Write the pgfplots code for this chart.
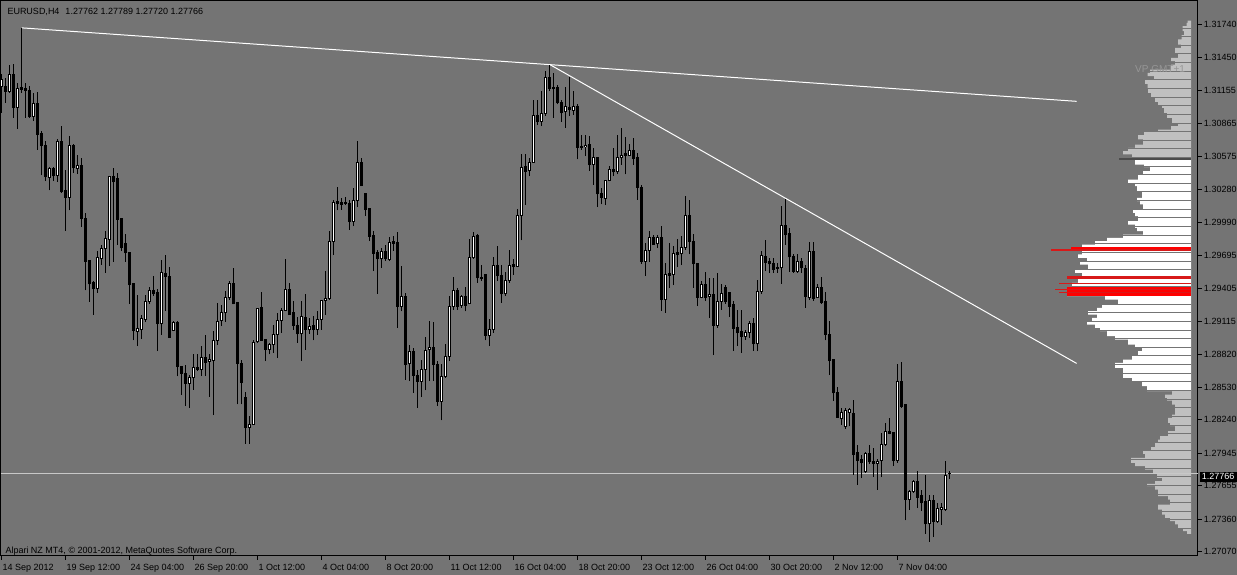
\documentclass[border=0pt]{standalone}
\usepackage{fontspec}
\setmainfont{Liberation Sans}
\usepackage{pgfplots}
\usepackage{pgfplotstable}
\pgfplotsset{compat=1.18}

\definecolor{mtbg}{RGB}{116,116,116}
\definecolor{vpgray}{RGB}{192,192,192}
\definecolor{vpred}{RGB}{255,0,0}
\definecolor{vpdark}{RGB}{215,25,25}
\definecolor{bidline}{RGB}{200,200,200}
\definecolor{vptext}{RGB}{150,150,150}

% EURUSD H4 candles: index, open, high, low, close
\pgfplotstableread{
k o h l c
0 1.31196 1.31300 1.30960 1.31256
1 1.31196 1.31270 1.31049 1.31152
2 1.31152 1.31388 1.31137 1.31300
3 1.31300 1.31394 1.30916 1.31010
4 1.31010 1.31226 1.30821 1.31176
5 1.31188 1.31713 1.31137 1.31170
6 1.31176 1.31226 1.30916 1.31158
7 1.31158 1.31196 1.30916 1.30925
8 1.30928 1.31137 1.30886 1.31040
9 1.31040 1.31146 1.30635 1.30768
10 1.30780 1.30798 1.30405 1.30668
11 1.30674 1.30715 1.30355 1.30396
12 1.30390 1.30479 1.30272 1.30467
13 1.30467 1.30479 1.30355 1.30402
14 1.30408 1.30724 1.30349 1.30703
15 1.30703 1.30842 1.30251 1.30260
16 1.30272 1.30458 1.29917 1.30213
17 1.30213 1.30753 1.30095 1.30674
18 1.30674 1.30685 1.30428 1.30473
19 1.30467 1.30585 1.30420 1.30496
20 1.30496 1.30561 1.29947 1.30024
21 1.30024 1.30074 1.29386 1.29646
22 1.29652 1.29660 1.29285 1.29445
23 1.29454 1.29468 1.29173 1.29403
24 1.29403 1.29734 1.29365 1.29675
25 1.29669 1.29793 1.29616 1.29755
26 1.29755 1.29917 1.29542 1.29844
27 1.29838 1.30399 1.29601 1.30399
28 1.30399 1.30473 1.29640 1.30349
29 1.30378 1.30428 1.29793 1.30015
30 1.30021 1.30030 1.29734 1.29764
31 1.29805 1.29888 1.29640 1.29719
32 1.29719 1.29719 1.29268 1.29439
33 1.29445 1.29445 1.28943 1.29031
34 1.29025 1.29350 1.28892 1.29046
35 1.29040 1.29173 1.28960 1.29135
36 1.29129 1.29350 1.29108 1.29291
37 1.29291 1.29421 1.29268 1.29386
38 1.29386 1.29513 1.29335 1.29356
39 1.29365 1.29395 1.28848 1.29093
40 1.29093 1.29654 1.28996 1.29548
41 1.29539 1.29699 1.29203 1.29510
42 1.29510 1.29592 1.28966 1.28972
43 1.29034 1.29114 1.29025 1.29105
44 1.29099 1.29114 1.28624 1.28712
45 1.28712 1.28715 1.28458 1.28653
46 1.28653 1.28730 1.28361 1.28565
47 1.28562 1.28641 1.28346 1.28612
48 1.28612 1.28819 1.28508 1.28700
49 1.28700 1.28825 1.28671 1.28689
50 1.28686 1.28892 1.28627 1.28795
51 1.28795 1.28996 1.28627 1.28751
52 1.28760 1.28819 1.28443 1.28777
53 1.28768 1.29025 1.28281 1.28946
54 1.28946 1.29273 1.28907 1.29114
55 1.29120 1.29256 1.29070 1.29188
56 1.29188 1.29380 1.29108 1.29327
57 1.29327 1.29468 1.29306 1.29451
58 1.29445 1.29587 1.29262 1.29268
59 1.29276 1.29276 1.28376 1.28742
60 1.28742 1.28771 1.28376 1.28571
61 1.28441 1.28488 1.28027 1.28175
62 1.28175 1.28272 1.28027 1.28198
63 1.28198 1.28943 1.28192 1.28928
64 1.28931 1.29232 1.28922 1.29223
65 1.29232 1.29374 1.28943 1.28943
66 1.28951 1.28960 1.28760 1.28863
67 1.28863 1.28922 1.28819 1.28907
68 1.28907 1.29084 1.28833 1.28996
69 1.28996 1.29188 1.28789 1.29120
70 1.29120 1.29232 1.29011 1.29209
71 1.29209 1.29669 1.29203 1.29395
72 1.29395 1.29454 1.29173 1.29173
73 1.29188 1.29297 1.29040 1.29079
74 1.29079 1.29150 1.28922 1.29002
75 1.29002 1.29291 1.28760 1.29158
76 1.29150 1.29356 1.28863 1.29040
77 1.29040 1.29144 1.29002 1.29070
78 1.29079 1.29158 1.28943 1.29040
79 1.29040 1.29203 1.28996 1.29129
80 1.29129 1.29306 1.29040 1.29297
81 1.29297 1.29563 1.29173 1.29315
82 1.29315 1.29917 1.29306 1.29823
83 1.29823 1.30192 1.29699 1.30168
84 1.30171 1.30301 1.30095 1.30160
85 1.30168 1.30207 1.30103 1.30148
86 1.30160 1.30213 1.30142 1.30165
87 1.30157 1.30192 1.29926 1.30000
88 1.30000 1.30295 1.29956 1.30186
89 1.30186 1.30709 1.30124 1.30517
90 1.30517 1.30561 1.30310 1.30316
91 1.30242 1.30242 1.30044 1.30103
92 1.30109 1.30109 1.29823 1.29867
93 1.29873 1.29917 1.29557 1.29714
94 1.29719 1.29749 1.29356 1.29669
95 1.29669 1.29764 1.29586 1.29734
96 1.29734 1.29793 1.29646 1.29669
97 1.29660 1.29861 1.29646 1.29808
98 1.29823 1.29867 1.29740 1.29805
99 1.29814 1.29903 1.29055 1.29247
100 1.29247 1.29601 1.29202 1.29335
101 1.29335 1.29365 1.28597 1.28730
102 1.28736 1.28907 1.28582 1.28842
103 1.28842 1.28878 1.28479 1.28635
104 1.28635 1.28685 1.28346 1.28582
105 1.28582 1.28774 1.28440 1.28685
106 1.28685 1.28972 1.28500 1.28854
107 1.28863 1.29114 1.28582 1.28884
108 1.28884 1.29108 1.28582 1.28730
109 1.28730 1.28765 1.28361 1.28405
110 1.28405 1.28736 1.28234 1.28626
111 1.28626 1.28913 1.28612 1.28804
112 1.28804 1.29335 1.28765 1.29247
113 1.29247 1.29504 1.29217 1.29386
114 1.29386 1.29409 1.29217 1.29247
115 1.29256 1.29350 1.29232 1.29335
116 1.29335 1.29415 1.29202 1.29256
117 1.29268 1.29838 1.29262 1.29675
118 1.29675 1.29906 1.29669 1.29867
119 1.29873 1.29888 1.29453 1.29498
120 1.29504 1.29616 1.29468 1.29489
121 1.29527 1.29527 1.28943 1.28990
122 1.28990 1.29129 1.28892 1.29040
123 1.29040 1.29681 1.29011 1.29610
124 1.29610 1.29779 1.29468 1.29522
125 1.29522 1.29610 1.29276 1.29356
126 1.29356 1.29551 1.29335 1.29474
127 1.29474 1.29749 1.29453 1.29610
128 1.29616 1.29669 1.29527 1.29601
129 1.29601 1.30112 1.29592 1.30050
130 1.30050 1.30591 1.29829 1.30479
131 1.30487 1.30591 1.30142 1.30443
132 1.30449 1.30561 1.30399 1.30523
133 1.30523 1.31078 1.30517 1.30936
134 1.30939 1.31078 1.30851 1.30880
135 1.30886 1.31152 1.30842 1.30954
136 1.30954 1.31329 1.30931 1.31276
137 1.31276 1.31388 1.31152 1.31176
138 1.31182 1.31315 1.30916 1.31173
139 1.31182 1.31205 1.31034 1.31049
140 1.31049 1.31078 1.30880 1.30960
141 1.30969 1.31188 1.30827 1.31019
142 1.31010 1.31276 1.30931 1.30990
143 1.30984 1.31152 1.30945 1.31019
144 1.31019 1.31034 1.30547 1.30656
145 1.30662 1.30762 1.30635 1.30656
146 1.30659 1.30762 1.30576 1.30674
147 1.30680 1.30753 1.30449 1.30502
148 1.30502 1.30650 1.30325 1.30567
149 1.30567 1.30567 1.30124 1.30242
150 1.30242 1.30295 1.30148 1.30213
151 1.30201 1.30369 1.30142 1.30360
152 1.30360 1.30487 1.30355 1.30458
153 1.30458 1.30650 1.30399 1.30437
154 1.30437 1.30762 1.30414 1.30561
155 1.30561 1.30827 1.30502 1.30585
156 1.30597 1.30744 1.30414 1.30585
157 1.30585 1.30680 1.30576 1.30626
158 1.30626 1.30739 1.30502 1.30555
159 1.30561 1.30606 1.30192 1.30301
160 1.30295 1.30325 1.29622 1.29646
161 1.29646 1.29808 1.29513 1.29740
162 1.29740 1.29911 1.29640 1.29858
163 1.29858 1.29882 1.29793 1.29793
164 1.29799 1.29876 1.29764 1.29852
165 1.29852 1.29956 1.29208 1.29306
166 1.29306 1.29631 1.29188 1.29527
167 1.29533 1.29808 1.29409 1.29522
168 1.29527 1.29779 1.29433 1.29711
169 1.29719 1.29838 1.29592 1.29705
170 1.29711 1.29867 1.29610 1.29770
171 1.29770 1.30222 1.29749 1.30053
172 1.30053 1.30192 1.29705 1.29823
173 1.29823 1.29888 1.29409 1.29622
174 1.29622 1.29622 1.29247 1.29327
175 1.29327 1.29468 1.29315 1.29439
176 1.29439 1.29551 1.29291 1.29327
177 1.29335 1.29498 1.29143 1.29350
178 1.29350 1.29498 1.28813 1.29078
179 1.29078 1.29542 1.29055 1.29291
180 1.29291 1.29445 1.29217 1.29356
181 1.29415 1.29433 1.29267 1.29285
182 1.29365 1.29365 1.29149 1.29247
183 1.29262 1.29291 1.28854 1.29049
184 1.29055 1.29217 1.28892 1.29011
185 1.29019 1.29217 1.28833 1.28981
186 1.28981 1.29040 1.28951 1.29016
187 1.29016 1.29114 1.28966 1.29093
188 1.29093 1.29143 1.28854 1.28913
189 1.28913 1.29483 1.28848 1.29380
190 1.29380 1.29740 1.29356 1.29699
191 1.29690 1.29829 1.29557 1.29637
192 1.29640 1.29675 1.29542 1.29622
193 1.29622 1.29675 1.29542 1.29572
194 1.29581 1.29631 1.29542 1.29592
195 1.29587 1.30133 1.29445 1.29965
196 1.29965 1.30201 1.29793 1.29882
197 1.29888 1.29941 1.29551 1.29684
198 1.29684 1.29705 1.29542 1.29557
199 1.29557 1.29705 1.29542 1.29640
200 1.29640 1.29675 1.29542 1.29587
201 1.29581 1.29616 1.29232 1.29335
202 1.29327 1.29817 1.29306 1.29728
203 1.29728 1.29817 1.29297 1.29315
204 1.29327 1.29445 1.29321 1.29409
205 1.29415 1.29504 1.29267 1.29276
206 1.29285 1.29374 1.28943 1.28996
207 1.28996 1.29114 1.28635 1.28765
208 1.28774 1.28774 1.28405 1.28479
209 1.28479 1.28529 1.28257 1.28263
210 1.28251 1.28346 1.28198 1.28302
211 1.28183 1.28346 1.28163 1.28322
212 1.28302 1.28346 1.28183 1.28331
213 1.28293 1.28420 1.27755 1.27932
214 1.27947 1.28021 1.27661 1.27879
215 1.27888 1.27932 1.27726 1.27859
216 1.27779 1.27956 1.27770 1.27941
217 1.27941 1.28021 1.27850 1.27867
218 1.27867 1.27986 1.27734 1.27856
219 1.27856 1.27897 1.27622 1.27873
220 1.27879 1.28124 1.27732 1.28021
221 1.28021 1.28213 1.28006 1.28133
222 1.28133 1.28257 1.28110 1.28121
223 1.28124 1.28124 1.27829 1.27879
224 1.27879 1.28736 1.27859 1.28582
225 1.28582 1.28754 1.28346 1.28361
226 1.28375 1.28375 1.27348 1.27534
227 1.27534 1.27622 1.27445 1.27607
228 1.27607 1.27711 1.27593 1.27696
229 1.27696 1.27785 1.27460 1.27554
230 1.27572 1.27622 1.27430 1.27504
231 1.27519 1.27755 1.27229 1.27318
232 1.27318 1.27578 1.27158 1.27525
233 1.27525 1.27578 1.27200 1.27342
234 1.27342 1.27504 1.27327 1.27454
235 1.27445 1.27504 1.27312 1.27466
236 1.27445 1.27879 1.27436 1.27746
237 1.27762 1.27789 1.27720 1.27766
}\candles

\begin{document}
\begin{tikzpicture}[x=1pt,y=1pt]
\fill[mtbg] (0,0) rectangle (1237,575);
\path[use as bounding box] (0,0) rectangle (1237,575);

% volume profile (length in px from the right edge, price)
\begin{axis}[at={(2.5,17)}, anchor=south west, scale only axis,
  width=1197pt, height=555.7pt, hide axis, x dir=reverse,
  xmin=-3.5, xmax=1193.5, ymin=1.27035, ymax=1.31959]
\addplot[xbar interval, fill=vpgray, draw=none] coordinates {
 (3.3,1.31778) (4.3,1.31758) (8.3,1.31728) (7,1.31684) (9.3,1.31649)
 (13,1.31610) (10,1.31565) (16,1.31536) (13,1.31492) (20,1.31448)
 (16,1.31418) (20,1.31388) (41,1.31344) (43.3,1.31315) (37,1.31285)
 (46,1.31255) (43.3,1.31217) (43,1.31182) (40,1.31137) (36,1.31093)
 (33,1.31058) (29,1.31028) (27,1.31004) (24,1.30960) (19,1.30916)
 (13,1.30872) (20,1.30842) (33,1.30812) (47,1.30789) (53,1.30763)
 (48,1.30724) (56,1.30679) (63,1.30650) (68,1.30621) (59,1.30591)
 (72,1.30561) (0,1.30546)};
\addplot[xbar interval, fill=white, draw=none] coordinates {
 (56,1.30546) (47,1.30502) (41,1.30479) (48,1.30444) (53,1.30413)
 (63,1.30369) (56,1.30340) (54,1.30311) (49,1.30266) (54,1.30207)
 (51,1.30178) (48,1.30148) (58,1.30103) (56,1.30074) (53,1.30045)
 (63,1.30000) (56,1.29970) (54,1.29941) (48,1.29912) (68,1.29882)
 (84,1.29852) (96,1.29823) (109,1.29793) (120,1.29770) (109,1.29740)
 (113,1.29705) (104,1.29675) (111,1.29646) (103,1.29616) (116,1.29572)
 (109,1.29542) (124,1.29510) (113,1.29489) (119,1.29454) (124,1.29416)
 (86,1.29336) (73,1.29306) (89,1.29261) (94,1.29232) (103,1.29203)
 (94,1.29173) (99,1.29144) (104,1.29114) (96,1.29084) (91,1.29055)
 (84,1.29026) (76,1.28981) (63,1.28951) (56,1.28907) (49,1.28878)
 (53,1.28848) (59,1.28804) (68,1.28774) (76,1.28745) (68,1.28700)
 (68,1.28656) (59,1.28612) (49,1.28583) (44,1.28538) (0,1.28494)};
\addplot[xbar interval, fill=vpgray, draw=none] coordinates {
 (19,1.28494) (26,1.28464) (24,1.28435) (19,1.28411) (16,1.28375)
 (19,1.28287) (23,1.28257) (21,1.28213) (16,1.28184) (23,1.28140)
 (31,1.28095) (33,1.28065) (36,1.28036) (40,1.27998) (48,1.27968)
 (46,1.27938) (60,1.27903) (56,1.27859) (46,1.27829) (38,1.27799)
 (34,1.27761) (29,1.27726) (36,1.27696) (44,1.27673) (36,1.27652)
 (33,1.27622) (23,1.27564) (21,1.27533) (33,1.27489) (29,1.27445)
 (26,1.27400) (21,1.27371) (16,1.27342) (13,1.27313) (8,1.27283)
 (4,1.27254) (0,1.27230)};
% row separators
\addplot[draw=none, mark=none, error bars/.cd, x dir=plus, x fixed=160,
  error mark=none, error bar style={draw=mtbg, line width=1pt}] coordinates {
 (0,1.31788) (0,1.31711) (0,1.31635) (0,1.31559) (0,1.31482) (0,1.31406)
 (0,1.31329) (0,1.31253) (0,1.31176) (0,1.31100) (0,1.31023) (0,1.30947)
 (0,1.30870) (0,1.30794) (0,1.30717) (0,1.30641) (0,1.30564) (0,1.30488)
 (0,1.30412) (0,1.30335) (0,1.30259) (0,1.30182) (0,1.30106) (0,1.30029)
 (0,1.29953) (0,1.29876) (0,1.29800) (0,1.29723) (0,1.29647) (0,1.29571)
 (0,1.29494) (0,1.29418) (0,1.29341) (0,1.29265) (0,1.29188) (0,1.29112)
 (0,1.29035) (0,1.28959) (0,1.28882) (0,1.28806) (0,1.28729) (0,1.28653)
 (0,1.28576) (0,1.28500) (0,1.28424) (0,1.28347) (0,1.28271) (0,1.28194)
 (0,1.28118) (0,1.28041) (0,1.27965) (0,1.27888) (0,1.27812) (0,1.27735)
 (0,1.27659) (0,1.27582) (0,1.27506) (0,1.27429) (0,1.27353) (0,1.27276)};
\addplot[xbar interval, fill=black!70, draw=none] coordinates {(72,1.30561) (0,1.30546)};
\addplot[xbar interval, fill=vpred, draw=none] coordinates {(120,1.29770) (0,1.29740)};
\addplot[xbar interval, fill=vpdark, draw=none] coordinates {(140,1.29751) (0,1.29740)};
\addplot[xbar interval, fill=vpdark, draw=none] coordinates {(124,1.29510) (0,1.29489)};
\addplot[xbar interval, fill=vpdark, draw=none] coordinates {(132,1.29449) (0,1.29440)};
\addplot[xbar interval, fill=vpred, draw=none] coordinates {(124,1.29416) (0,1.29336)};
\addplot[xbar interval, fill=vpdark, draw=none] coordinates {(136,1.29399) (0,1.29390)};
\addplot[xbar interval, fill=vpdark, draw=none] coordinates {(132,1.29370) (0,1.29361)};
\end{axis}

% price chart
\begin{axis}[at={(2.5,17)}, anchor=south west, scale only axis,
  width=1197pt, height=555.7pt,
  xmin=-0.2, xmax=299.05, ymin=1.27035, ymax=1.31959,
  axis line style={black, line width=1pt},
  tick style={black, line width=1pt}, tick align=outside, major tick length=4pt,
  xtick pos=left, ytick pos=right,
  xtick={0,16,...,224},
  xticklabels={14 Sep 2012, 19 Sep 12:00, 24 Sep 04:00, 26 Sep 20:00,
    1 Oct 12:00, 4 Oct 04:00, 8 Oct 20:00, 11 Oct 12:00, 16 Oct 04:00,
    18 Oct 20:00, 23 Oct 12:00, 26 Oct 04:00, 30 Oct 20:00, 2 Nov 12:00,
    7 Nov 04:00},
  ytick={1.27070,1.27360,1.27655,1.27945,1.28240,1.28530,1.28820,1.29115,
    1.29405,1.29695,1.29990,1.30280,1.30575,1.30865,1.31155,1.31450,1.31740},
  yticklabels={1.27070,1.27360,1.27655,1.27945,1.28240,1.28530,1.28820,1.29115,
    1.29405,1.29695,1.29990,1.30280,1.30575,1.30865,1.31155,1.31450,1.31740},
  tick label style={font=\fontsize{9}{10}\selectfont, black},
  xticklabel style={anchor=north west, inner sep=0pt, yshift=-4pt, xshift=0.7pt},
  yticklabel style={anchor=west, inner sep=0pt, xshift=1.8pt},
  /pgf/number format/assume math mode=true]
\addplot[bidline, line width=1pt] coordinates {(-0.2,1.27766) (299.05,1.27766)};
\addplot[white, line width=1pt] coordinates {(5,1.31713) (268.7,1.31062)};
\addplot[white, line width=1pt] coordinates {(137,1.31388) (268.7,1.28740)};
% wicks
\addplot[draw=none, mark=none, error bars/.cd, y dir=plus, y explicit,
  error mark=none, error bar style={draw=black, line width=1pt}]
  table[x=k, y=l, y error expr=\thisrow{h}-\thisrow{l}] {\candles};
% bodies
\addplot[draw=none, mark=none, error bars/.cd, y dir=plus, y explicit,
  error mark=none, error bar style={draw=black, line width=3pt}]
  table[x=k, y expr={min(\thisrow{o},\thisrow{c})-0.0000443},
    y error expr={abs(\thisrow{c}-\thisrow{o})+0.0000886}] {\candles};
% hollow centre of rising candles
\addplot[draw=none, mark=none,
  restrict expr to domain={\thisrow{c}-\thisrow{o}}{0.00012:1},
  error bars/.cd, y dir=plus, y explicit,
  error mark=none, error bar style={draw=white, line width=1pt}]
  table[x=k, y expr={\thisrow{o}+0.0000443},
    y error expr={\thisrow{c}-\thisrow{o}-0.0000886}] {\candles};
\end{axis}

\node[anchor=base west, inner sep=0pt, font=\fontsize{9}{10}\selectfont]
  at (7.3,560.5) {EURUSD,H4\hspace{6pt}1.27762 1.27789 1.27720 1.27766};
\node[anchor=base west, inner sep=0pt, font=\fontsize{9}{10}\selectfont]
  at (5.3,21) {Alpari NZ MT4, © 2001-2012, MetaQuotes Software Corp.};
\node[anchor=base west, inner sep=0pt, text=vptext, font=\fontsize{10}{12}\selectfont]
  at (1135,502) {VP GMT+1};
\node[anchor=west, fill=black, text=white, inner xsep=2.3pt, inner ysep=0pt,
  minimum height=10pt, font=\fontsize{9}{10}\selectfont] at (1199.3,98.3) {1.27766};
\end{tikzpicture}
\end{document}
